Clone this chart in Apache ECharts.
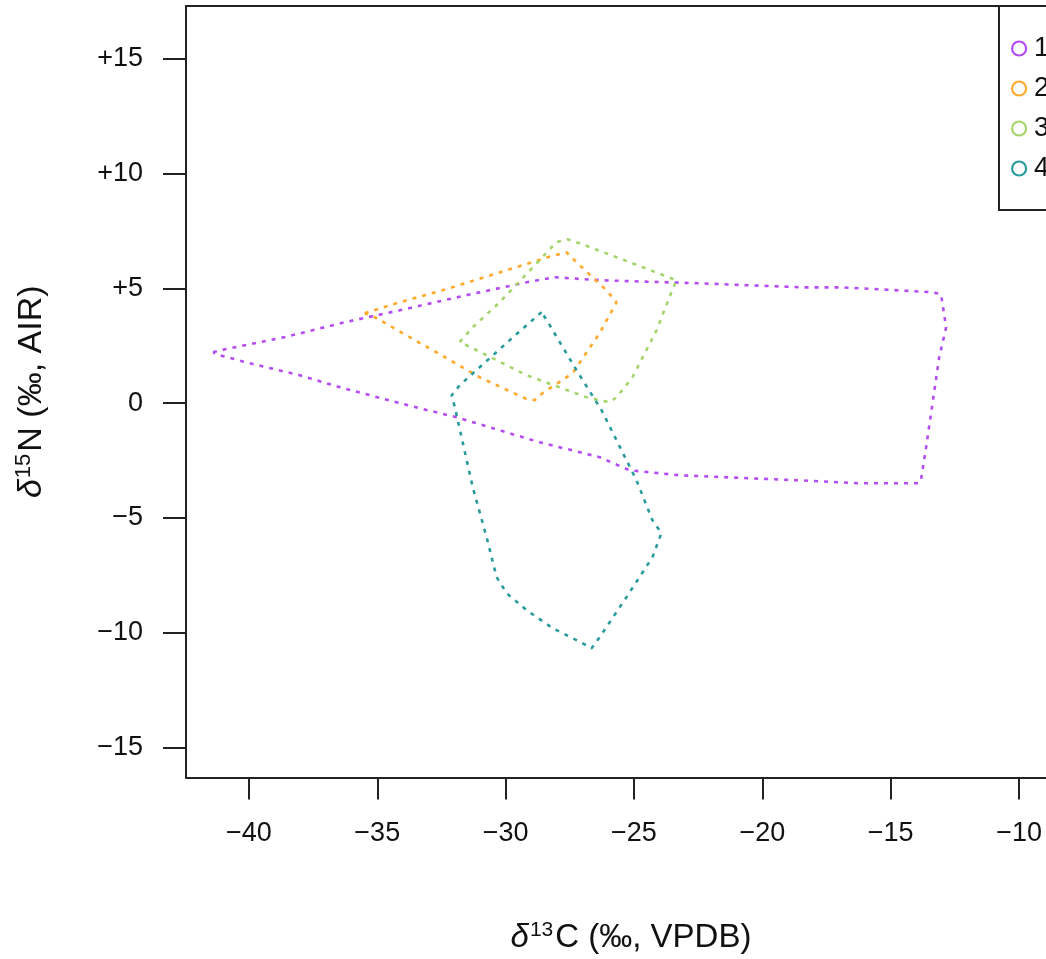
<!DOCTYPE html>
<html>
<head>
<meta charset="utf-8">
<script src="https://cdn.jsdelivr.net/npm/echarts@6/dist/echarts.min.js"></script>
<style>html,body{margin:0;padding:0;background:#fff;overflow:hidden}#c{width:1046px;height:959px}</style>
</head>
<body>
<div id="c"></div>
<script>
const seriesNames = ['1', '2', '3', '4'];
const seriesColors = ['#b54cf2', '#ffaa2e', '#a6d46c', '#2a9b9d'];
const xTicks = [-40, -35, -30, -25, -20, -15, -10];
const yTicks = [-15, -10, -5, 0, 5, 10, 15];

const group1 = [[-41.40,2.22],[-40.93,2.35],[-38.60,2.88],[-36.26,3.53],[-34.12,4.05],[-31.52,4.71],[-29.18,5.27],[-28.09,5.49],[-26.34,5.36],[-22.57,5.23],[-18.44,5.05],[-16.89,5.05],[-13.39,4.84],[-13.04,4.75],[-12.84,3.31],[-13.11,2.00],[-13.62,-1.92],[-13.81,-3.27],[-13.89,-3.49],[-16.23,-3.49],[-18.56,-3.36],[-23.23,-3.14],[-25.18,-2.92],[-26.34,-2.35],[-28.68,-1.70],[-30.23,-1.18],[-31.91,-0.61],[-33.35,-0.22],[-34.12,0.00],[-36.46,0.70],[-38.02,1.22],[-39.96,1.74],[-41.13,2.09],[-41.40,2.22]];
const group2 = [[-35.49,3.92],[-34.12,4.40],[-32.18,5.01],[-30.35,5.66],[-28.37,6.36],[-27.63,6.58],[-27.20,6.10],[-26.07,4.92],[-25.68,4.40],[-26.34,3.05],[-27.39,1.31],[-28.56,0.44],[-28.87,0.13],[-29.26,0.22],[-31.01,1.13],[-32.84,2.31],[-34.01,3.05],[-35.10,3.75],[-35.49,3.92]];
const group3 = [[-31.79,2.66],[-31.28,3.31],[-30.23,4.40],[-28.79,6.10],[-28.02,7.02],[-27.59,7.15],[-27.12,6.97],[-25.06,6.10],[-23.35,5.36],[-23.54,4.84],[-24.12,3.18],[-25.06,1.13],[-25.68,0.26],[-25.95,0.04],[-26.85,0.26],[-29.18,1.22],[-31.13,2.31],[-31.67,2.61],[-31.79,2.66]];
const group4 = [[-28.60,3.97],[-29.84,2.75],[-31.79,0.78],[-32.10,0.35],[-31.98,-0.17],[-31.28,-3.66],[-30.74,-5.84],[-30.35,-7.58],[-29.96,-8.28],[-29.18,-9.02],[-28.17,-9.80],[-27.00,-10.46],[-26.65,-10.68],[-26.34,-10.20],[-25.29,-8.45],[-24.28,-6.71],[-23.93,-5.66],[-24.28,-5.10],[-24.90,-3.36],[-26.26,-0.31],[-27.24,1.44],[-28.40,3.62],[-28.60,3.97]];
const groups = [group1, group2, group3, group4];

const FONT = 'Liberation Sans, Arial, sans-serif';
function fmtY(v){ return v < 0 ? '\u2212' + Math.abs(v) : (v > 0 ? '+' + v : '0'); }
function rich(fs){
  return {
    i: {fontSize: fs, fontStyle: 'italic', fontFamily: FONT, color: '#111'},
    s: {fontSize: Math.round(fs * 0.64), verticalAlign: 'top', padding: [0, 2, Math.round(fs * 0.45), 1], fontFamily: FONT, color: '#111'},
    n: {fontSize: fs, fontFamily: FONT, color: '#111'}
  };
}

const chart = echarts.init(document.getElementById('c'), null, {renderer: 'canvas'});
chart.setOption({
  animation: false,
  backgroundColor: '#fff',
  grid: {left: 186, top: 6, right: 0, bottom: 181, show: false},
  xAxis: [{
    type: 'value', min: -42.45, max: -8.95,
    axisLine: {show: true, onZero: false, lineStyle: {color: '#222', width: 2}},
    axisTick: {show: true, inside: false, length: 22, lineStyle: {color: '#222', width: 2}, customValues: xTicks},
    axisLabel: {color: '#111', fontSize: 27, fontFamily: FONT, margin: 43, customValues: xTicks, formatter: v => v < 0 ? '\u2212' + Math.abs(v) : String(v)},
    splitLine: {show: false},
    name: '{i|\u03b4}{s|13}{n|C (\u2030, VPDB)}',
    nameLocation: 'middle', nameGap: 142,
    nameTextStyle: {color: '#111', fontFamily: FONT, padding: [0, 0, 0, 30], rich: rich(33)}
  }, {
    type: 'value', position: 'top', min: -42.45, max: -8.95,
    axisLine: {show: true, onZero: false, lineStyle: {color: '#222', width: 2}},
    axisTick: {show: false}, axisLabel: {show: false}, splitLine: {show: false}
  }],
  yAxis: {
    type: 'value', min: -16.31, max: 17.31,
    axisLine: {show: true, onZero: false, lineStyle: {color: '#222', width: 2}},
    axisTick: {show: true, inside: false, length: 23, lineStyle: {color: '#222', width: 2}, customValues: yTicks},
    axisLabel: {color: '#111', fontSize: 27, fontFamily: FONT, margin: 43, customValues: yTicks, formatter: fmtY},
    splitLine: {show: false},
    name: '{i|\u03b4}{s|15}{n|N (\u2030, AIR)}',
    nameLocation: 'middle', nameGap: 136, nameRotate: 90,
    nameTextStyle: {color: '#111', fontFamily: FONT, rich: rich(34)}
  },
  legend: {
    orient: 'vertical', left: 999, top: 6,
    padding: [29, 80, 28, 12],
    itemWidth: 14, itemHeight: 14, itemGap: 13,
    borderColor: '#222', borderWidth: 2, backgroundColor: '#fff',
    textStyle: {color: '#111', fontSize: 27, lineHeight: 27, fontFamily: FONT, padding: [0, 0, 0, 3]},
    data: seriesNames.map((n, i) => ({
      name: n, icon: 'circle',
      itemStyle: {color: '#fff', borderColor: seriesColors[i], borderWidth: 2.2}
    }))
  },
  series: groups.map((g, i) => ({
    name: seriesNames[i], type: 'line', data: g,
    showSymbol: false, symbol: 'circle', smooth: false,
    itemStyle: {color: seriesColors[i]},
    lineStyle: {color: seriesColors[i], width: 2.6, type: [4, 6], cap: 'butt'},
    z: 3
  }))
});
</script>
</body>
</html>
